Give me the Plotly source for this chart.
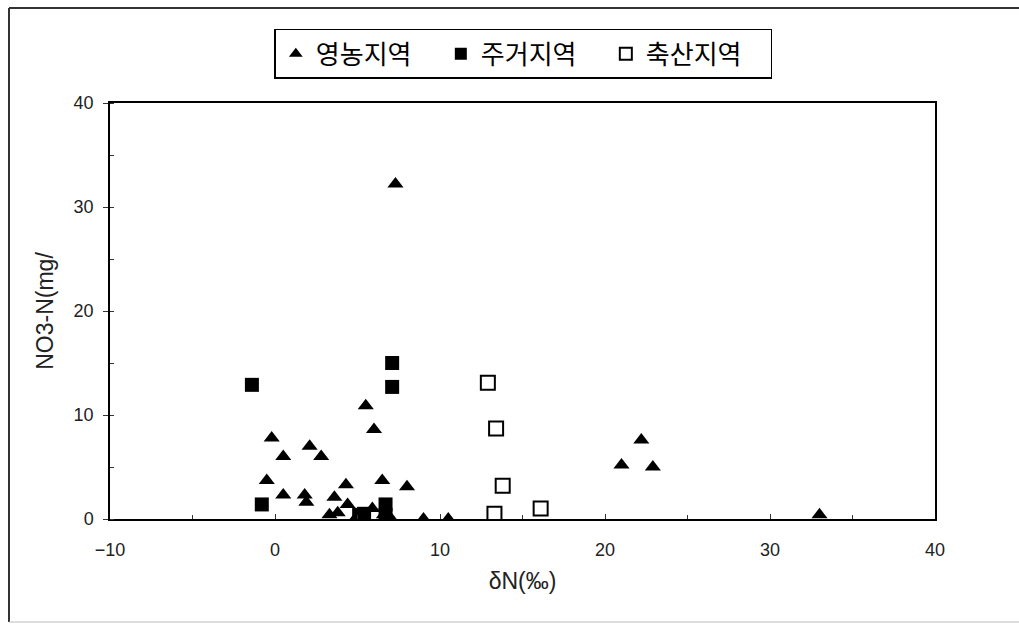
import plotly.graph_objects as go

# 영농지역 (filled triangles)
farm_x = [7.3, 5.5, 6.0, -0.2, 2.1, 0.5, 2.8, -0.5, 4.3, 6.5, 8.0, 0.5, 1.8, 1.9, 3.6,
          4.4, 5.9, 3.3, 3.8, 4.9, 7.0, 9.0, 10.5, 21.0, 22.2, 22.9, 33.0, 6.6]
farm_y = [32.2, 10.9, 8.6, 7.8, 7.0, 6.0, 6.0, 3.7, 3.3, 3.7, 3.1, 2.3, 2.3, 1.6, 2.1,
          1.4, 1.0, 0.4, 0.6, 0.1, 0.1, 0.0, 0.0, 5.2, 7.6, 5.0, 0.4, 0.4]

# 주거지역 (filled squares)
res_x = [-1.4, 7.1, 7.1, -0.8, 6.7, 5.1, 5.4, 6.7]
res_y = [12.9, 15.0, 12.7, 1.4, 1.4, 0.4, 0.5, 0.4]

# 축산지역 (open squares)
live_x = [12.9, 13.4, 13.8, 13.3, 16.1]
live_y = [13.1, 8.7, 3.2, 0.5, 1.0]

series_names = ["영농지역", "주거지역", "축산지역"]

fig = go.Figure()
fig.add_trace(go.Scatter(
    x=farm_x, y=farm_y, mode="markers", name=series_names[0],
    marker=dict(symbol="triangle-up", size=14, color="black", line=dict(width=0))))
fig.add_trace(go.Scatter(
    x=res_x, y=res_y, mode="markers", name=series_names[1],
    marker=dict(symbol="square", size=14, color="black", line=dict(width=0))))
fig.add_trace(go.Scatter(
    x=live_x, y=live_y, mode="markers", name=series_names[2],
    marker=dict(symbol="square", size=14, color="white", line=dict(width=2, color="black"))))

fam = "Liberation Sans, Arial, sans-serif"
tickfont = dict(family=fam, size=18, color="#222")

fig.update_layout(
    width=1019, height=634,
    margin=dict(l=110, r=84, t=103, b=115),
    paper_bgcolor="white", plot_bgcolor="white",
    showlegend=True,
    legend=dict(
        orientation="h", x=0.501, xanchor="center", y=1.178, yanchor="top",
        bordercolor="black", borderwidth=1.5, bgcolor="white",
        font=dict(family="Noto Sans CJK KR", size=26, color="black"),
        itemsizing="constant", itemwidth=30, tracegroupgap=0,
        entrywidth=120, entrywidthmode="pixels",
    ),
    xaxis=dict(
        range=[-10, 40], tickvals=[-10, 0, 10, 20, 30, 40],
        ticks="inside", ticklen=5, tickcolor="#333",
        minor=dict(dtick=5, ticks="inside", ticklen=4, tickcolor="#333"),
        showgrid=False, zeroline=False,
        showline=True, linecolor="black", linewidth=1.5, mirror=True,
        tickfont=tickfont, ticklabelstandoff=14,
        title=dict(text="δN(‰)", font=dict(family=fam, size=23, color="#222"), standoff=14),
    ),
    yaxis=dict(
        range=[0, 40], tickvals=[0, 10, 20, 30, 40],
        ticks="outside", ticklen=5, tickcolor="#333",
        minor=dict(dtick=5, ticks="inside", ticklen=4, tickcolor="#333"),
        showgrid=False, zeroline=False,
        showline=True, linecolor="black", linewidth=1.5, mirror=True,
        tickfont=tickfont, ticklabelstandoff=6,
        title=dict(text="NO3-N(mg/", font=dict(family=fam, size=23, color="#222"), standoff=14),
    ),
    shapes=[
        dict(type="line", xref="paper", yref="paper", x0=-101/825, x1=(1019-110)/825,
             y0=1 + 95/416, y1=1 + 95/416, line=dict(color="#333", width=2)),
        dict(type="line", xref="paper", yref="paper", x0=-101/825, x1=-101/825,
             y0=1 + 95/416, y1=-103/416, line=dict(color="#333", width=2)),
        dict(type="line", xref="paper", yref="paper", x0=-101/825, x1=(1019-110)/825,
             y0=-103/416, y1=-103/416, line=dict(color="#bbb", width=1)),
    ],
)

fig.write_html("out.html", config={"displayModeBar": False},
               post_script="document.body.style.margin='0';")
